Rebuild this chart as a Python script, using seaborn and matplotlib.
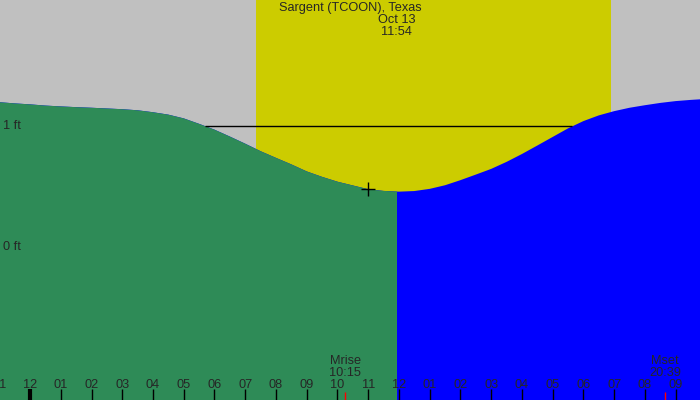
import matplotlib
matplotlib.use('Agg')
import matplotlib.pyplot as plt
from matplotlib.patches import Rectangle
import seaborn as sns

# data
###############################################################################

hours = [-1, -0.5, 0, 0.5, 1, 1.5, 2, 2.5, 3, 3.5, 4, 4.5, 5, 5.5, 6, 6.5, 7, 7.5,
         8, 8.5, 9, 9.5, 10, 10.5, 11, 11.5, 12, 12.5, 13, 13.5, 14, 14.5, 15, 15.5,
         16, 16.5, 17, 17.5, 18, 18.5, 19, 19.5, 20, 20.5, 21, 21.5, 22]
tide_ft = [1.196, 1.186, 1.178, 1.168, 1.161, 1.155, 1.150, 1.144, 1.138, 1.129, 1.113, 1.093,
           1.062, 1.017, 0.969, 0.912, 0.853, 0.791, 0.736, 0.682, 0.624, 0.579, 0.539, 0.508,
           0.477, 0.463, 0.457, 0.462, 0.480, 0.510, 0.552, 0.598, 0.645, 0.703, 0.768, 0.838,
           0.909, 0.980, 1.040, 1.087, 1.122, 1.150, 1.171, 1.190, 1.205, 1.215, 1.223]

tick_hours = list(range(-1, 22))
tick_labels = ['11', '12', '01', '02', '03', '04', '05', '06', '07', '08', '09', '10', '11',
               '12', '01', '02', '03', '04', '05', '06', '07', '08', '09']

sunrise, sunset = 7.35, 18.89
now = 11.93
now_date, now_time = 'Oct 13', '11:54'
station = 'Sargent (TCOON), Texas'
moon_times = [10.25, 20.65]
moon_names = ['Mrise', 'Mset']
moon_labels = ['10:15', '20:39']
low_time, low_ft = 11.0, 0.48
level_ft, level_start, level_end = 1.0, 5.69, 17.63
yticks = [0, 1]
ytick_labels = ['0 ft', '1 ft']

# plot
###############################################################################

sns.set_style('white')
plt.rcParams['font.family'] = ['Liberation Sans', 'DejaVu Sans']
fs = 9.2

xlim = (-0.976, 21.79)
ylim = (-1.264, 2.04)

fig = plt.figure(figsize=(7, 4), dpi=100)
ax = fig.add_axes([0, 0, 1, 1])
ax.set_facecolor('#c0c0c0')
ax.set_axisbelow(False)

ax.axvspan(sunrise, sunset, color='#cccc00', lw=0)

ax.fill_between(hours, tide_ft, ylim[0] - 1, color='#0000ff', lw=0)
green = ax.fill_between(hours, tide_ft, ylim[0] - 1, color='#2e8b57', lw=0)
green.set_clip_path(Rectangle((xlim[0] - 1, ylim[0] - 1), now - xlim[0] + 1, ylim[1] - ylim[0] + 2,
                              transform=ax.transData))

ax.hlines(level_ft, level_start, level_end, color='k', lw=1)
sns.scatterplot(x=[low_time], y=[low_ft], marker='+', s=110, color='k', linewidth=1,
                ax=ax, zorder=5, legend=False)

# hour ticks, thick one at midnight
ax.set_xticks([h for h in tick_hours if h not in (0, -1)])
ax.set_xticks([0], minor=True)
ax.tick_params(axis='x', which='major', direction='in', length=8, width=1, color='k',
               labelbottom=False, bottom=True)
ax.tick_params(axis='x', which='minor', direction='in', length=8, width=3, color='k',
               labelbottom=False, bottom=True)
ax.set_yticks([])
for spine in ax.spines.values():
    spine.set_visible(False)

xt = ax.get_xaxis_transform()
for h, lab in zip(tick_hours, tick_labels):
    ax.text(h, 0.0375, lab, transform=xt, ha='center', va='center', fontsize=fs, clip_on=False)

# moon rise / set
ax.vlines(moon_times, 0, 0.02, transform=xt, color='red', lw=1)
for t, name, lab in zip(moon_times, moon_names, moon_labels):
    ax.text(t, 0.0975, name, transform=xt, ha='center', va='center', fontsize=fs)
    ax.text(t, 0.0675, lab, transform=xt, ha='center', va='center', fontsize=fs)

# y labels
for v, lab in zip(yticks, ytick_labels):
    ax.text(0.004, v, lab, transform=ax.get_yaxis_transform(), ha='left', va='center', fontsize=fs)

# title
ax.text(0.5, 0.981, station, transform=ax.transAxes, ha='center', va='center', fontsize=fs)
ax.text(now, 0.951, now_date, transform=xt, ha='center', va='center', fontsize=fs)
ax.text(now, 0.921, now_time, transform=xt, ha='center', va='center', fontsize=fs)

ax.set(xlim=xlim, ylim=ylim)
plt.savefig('out.png', dpi=100)
